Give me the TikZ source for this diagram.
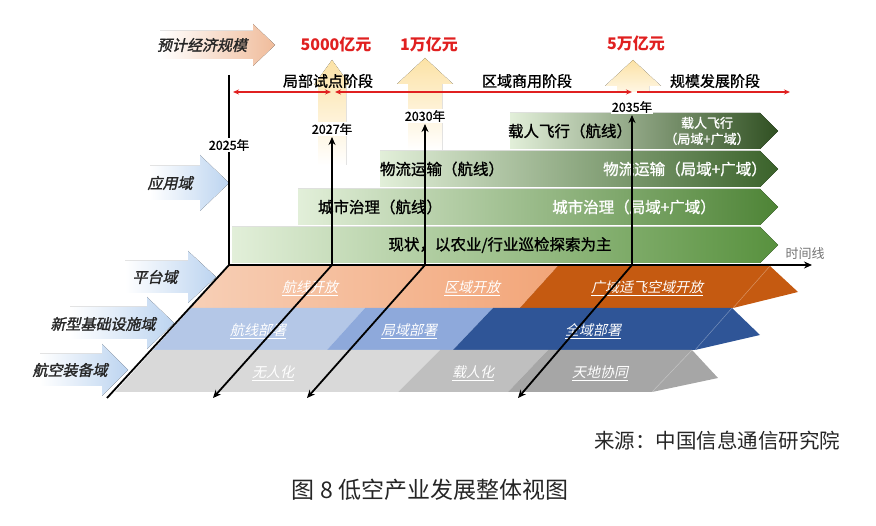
\documentclass[tikz,border=0pt]{standalone}
\usepackage{fontspec}
\setmainfont{Noto Sans CJK SC}
\newfontfamily\domfont{Noto Sans CJK SC}[FakeSlant=0.22,FakeBold=1.6]
\newfontfamily\cjkit{Noto Sans CJK SC}[FakeSlant=0.22]
\newfontfamily\cjkmid{Noto Sans CJK SC}[FakeBold=1.2]
\usetikzlibrary{arrows.meta,positioning}
\definecolor{ValRed}{RGB}{224,32,32}
\definecolor{DomBlue}{RGB}{188,212,240}
\definecolor{DomPeach}{RGB}{240,188,155}
\definecolor{YelTop}{RGB}{252,226,165}
\definecolor{GrnPale}{RGB}{226,239,217}
\definecolor{GrnMid}{RGB}{132,180,98}
\definecolor{GrnRowA}{RGB}{88,145,62}
\definecolor{GrnRowB}{RGB}{78,132,54}
\definecolor{GrnRowC}{RGB}{58,98,42}
\definecolor{GrnRowD}{RGB}{48,80,34}
\definecolor{OrgLight}{RGB}{247,207,182}
\definecolor{OrgMid}{RGB}{242,165,120}
\definecolor{OrgDark}{RGB}{197,90,17}
\definecolor{BluLight}{RGB}{180,199,231}
\definecolor{BluMid}{RGB}{142,169,219}
\definecolor{BluDark}{RGB}{47,85,151}
\definecolor{GryLight}{RGB}{217,217,217}
\definecolor{GryMid}{RGB}{191,191,191}
\definecolor{GryDark}{RGB}{166,166,166}

\begin{document}
\begin{tikzpicture}[x=1pt,y=-1pt,
 domarrow/.style={left color=white,middle color=DomBlue!45,right color=DomBlue},
 yelarrow/.style={top color=YelTop,bottom color=white},
 dom/.style={font=\domfont\fontsize{15}{18}\selectfont,text=black!85},
 val/.style={font=\bfseries\fontsize{16}{19}\selectfont,text=ValRed},
 stage/.style={font=\cjkmid\fontsize{15}{18}\selectfont},
 yr/.style={font=\cjkmid\fontsize{12.5}{15}\selectfont,fill=white,inner sep=1pt},
 rowtxt/.style={font=\cjkmid\fontsize{15.5}{18}\selectfont},
 lay/.style={font=\cjkit\fontsize{14}{17}\selectfont,text=white},
 axis/.style={line width=1.8pt,-{Stealth[length=8pt,width=7pt]}},
 span/.style={draw=ValRed,line width=1.4pt},
 >={Stealth[length=6pt,width=5pt]}]
\useasboundingbox (0,0) rectangle (876,526);

% side arrows behind the domain names
\fill[left color=white,middle color=DomPeach!40,right color=DomPeach] (160,31) -- (253,31) -- (253,24) -- (275,45) -- (253,66) -- (253,59) -- (160,59) -- cycle;
\fill[domarrow] (150,166) -- (200,166) -- (200,155) -- (229,183) -- (200,211) -- (200,200) -- (150,200) -- cycle;
\fill[domarrow] (125,261) -- (188,261) -- (188,251) -- (216,277) -- (188,303) -- (188,293) -- (125,293) -- cycle;
\fill[domarrow] (70,307) -- (147,307) -- (147,297) -- (174,323) -- (147,349) -- (147,339) -- (70,339) -- cycle;
\fill[domarrow] (40,354) -- (102,354) -- (102,344) -- (128,370) -- (102,396) -- (102,386) -- (40,386) -- cycle;

% growth arrows
\fill[yelarrow] (332,60) -- (350,85) -- (346,85) -- (346,165) -- (318,165) -- (318,85) -- (314,85) -- cycle;
\fill[yelarrow] (425,58) -- (453,84) -- (442,84) -- (442,150) -- (408,150) -- (408,84) -- (397,84) -- cycle;
\fill[top color=YelTop,bottom color=YelTop!30] (633,60) -- (661,86) -- (649,86) -- (649,92) -- (617,92) -- (617,86) -- (605,86) -- cycle;

% application rows
\fill[left color=GrnPale,middle color=GrnMid!75!GrnPale,right color=GrnRowA] (232,227) -- (760,227) -- (778,245) -- (760,263) -- (232,263) -- cycle;
\fill[left color=GrnPale,middle color=GrnMid,right color=GrnRowB] (298,189) -- (760,189) -- (778,207) -- (760,225) -- (298,225) -- cycle;
\fill[left color=GrnPale,middle color=GrnMid,right color=GrnRowC] (380,151) -- (760,151) -- (778,169) -- (760,187) -- (380,187) -- cycle;
\fill[left color=GrnPale,middle color=GrnMid!85!black,right color=GrnRowD] (510,113) -- (760,113) -- (778,131) -- (760,149) -- (510,149) -- cycle;

% platform band
\fill[left color=OrgLight,right color=OrgMid] (229,266) -- (558,266) -- (520,308) -- (191,308) -- cycle;
\fill[OrgDark] (558,266) -- (770,266) -- (798,292) -- (733,308) -- (520,308) -- cycle;
\draw[white,opacity=.35,line width=.5pt] (770,266) -- (733,308);
% infrastructure band
\fill[BluLight] (191,308) -- (365,308) -- (327,350) -- (153,350) -- cycle;
\fill[BluMid] (365,308) -- (493,308) -- (453,350) -- (327,350) -- cycle;
\fill[BluDark] (493,308) -- (732,308) -- (760,335) -- (695,350) -- (453,350) -- cycle;
\draw[white,opacity=.35,line width=.5pt] (732,308) -- (695,350);
% equipment band
\fill[GryLight] (153,350) -- (440,350) -- (398,392) -- (115,392) -- cycle;
\fill[GryMid] (440,350) -- (548,350) -- (508,392) -- (398,392) -- cycle;
\fill[GryDark] (548,350) -- (692,350) -- (718,378) -- (652,392) -- (508,392) -- cycle;
\draw[white,opacity=.35,line width=.5pt] (692,350) -- (652,392);

% row texts
\node[rowtxt] (now) at (500,245) {现状，以农业/行业巡检探索为主};
\node[rowtxt] (cityA) at (380,207) {城市治理（航线）};
\node[rowtxt,text=white] (cityB) at (634,207) {城市治理（局域+广域）};
\node[rowtxt] (logiA) at (442,169) {物流运输（航线）};
\node[rowtxt,text=white] (logiB) at (685,169) {物流运输（局域+广域）};
\node[rowtxt] (paxA) at (570,131) {载人飞行（航线）};
\node[rowtxt,text=white,align=center,font=\cjkmid\fontsize{13}{16}\selectfont] (paxB) at (707,131) {载人飞行\\（局域+广域）};

% band texts
\node[lay] (platA) at (310,288) {\underline{航线开放}};
\node[lay] (platB) at (472,288) {\underline{区域开放}};
\node[lay] (platC) at (647,288) {\underline{广域适飞空域开放}};
\node[lay] (infA) at (258,331) {\underline{航线部署}};
\node[lay] (infB) at (409,331) {\underline{局域部署}};
\node[lay] (infC) at (593,331) {\underline{全域部署}};
\node[lay] (eqA) at (273,373) {\underline{无人化}};
\node[lay] (eqB) at (473,373) {\underline{载人化}};
\node[lay] (eqC) at (600,373) {\underline{天地协同}};

% axes
\coordinate (o25) at (229,265);
\coordinate (o27) at (332,265);
\coordinate (o30) at (425,265);
\coordinate (o35) at (632,265);
\coordinate (top25) at (229,75);
\coordinate (t27) at (332,137);
\coordinate (t30) at (425,124);
\coordinate (t35) at (632,115);
\coordinate (d25) at (107,398);
\coordinate (d27) at (213,398);
\coordinate (d30) at (307,398);
\coordinate (d35) at (518,398);
\coordinate (tend) at (812,265);
\draw[line width=1.8pt] (top25) -- (o25);
\draw[axis] (o25) -- (tend);
\draw[axis] (o27) -- (t27);
\draw[axis] (o30) -- (t30);
\draw[axis] (o35) -- (t35);
\draw[line width=1.8pt] (o25) -- (d25);
\draw[axis] (o27) -- (d27);
\draw[axis] (o30) -- (d30);
\draw[axis] (o35) -- (d35);
\node[text=black!55,font=\fontsize{13}{15}\selectfont] (tline) at (805,254) {时间线};

% years
\node[yr] (y25) at (229,145) {2025年};
\node[yr,above=1pt of t27] (y27) {2027年};
\node[yr,above=1pt of t30] (y30) {2030年};
\node[yr,above=1pt of t35] (y35) {2035年};

% stages
\coordinate (s1a) at (233,92);
\coordinate (s1b) at (331,92);
\coordinate (s2a) at (335,92);
\coordinate (s2b) at (632,92);
\coordinate (s3a) at (637,92);
\coordinate (s3b) at (790,92);
\draw[span,<->] (s1a) -- (s1b);
\draw[span,<->] (s2a) -- (s2b);
\draw[span,->] (s3a) -- (s3b);
\node[stage] (st1) at (328,81) {局部试点阶段};
\node[stage] (st2) at (527,81) {区域商用阶段};
\node[stage] (st3) at (715,81) {规模发展阶段};

% economy scale
\node[val] (v27) at (336,44) {5000亿元};
\node[val] (v30) at (429,44) {1万亿元};
\node[val] (v35) at (636,43) {5万亿元};

% domain names
\node[dom] (econ) at (202,45) {预计经济规模};
\node[dom] (app) at (170,183) {应用域};
\node[dom] (plat) at (155,277) {平台域};
\node[dom] (infra) at (103,324) {新型基础设施域};
\node[dom] (equip) at (70,370) {航空装备域};

% source and caption
\node[font=\fontsize{20.5}{24}\selectfont,text=black!85] (src) at (717,441) {来源：中国信息通信研究院};
\node[font=\fontsize{23}{27}\selectfont,text=black!85] (cap) at (430,490) {图 8 低空产业发展整体视图};
\end{tikzpicture}
\end{document}
